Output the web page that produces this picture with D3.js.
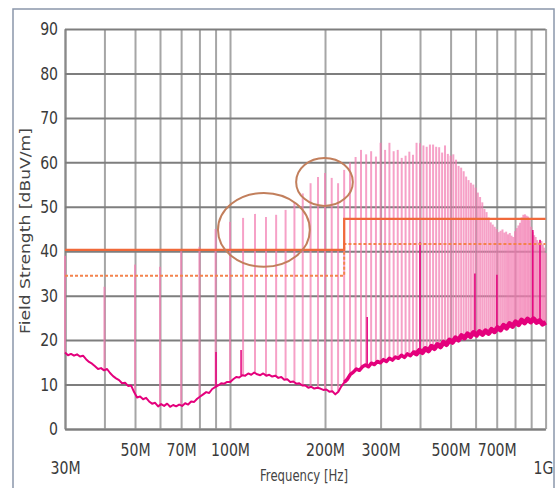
<!DOCTYPE html>
<html>
<head>
<meta charset="utf-8">
<script src="https://cdn.jsdelivr.net/npm/d3@7/dist/d3.min.js"></script>
<style>
  body { margin: 0; background: #fff; }
  svg text { fill: #3a3a3a; }
</style>
</head>
<body>
<div id="chart"></div>
<script>
// frequency grid (MHz) and labels
const gridFreqs = [30, 40, 50, 60, 70, 80, 90, 100, 200, 300, 400, 500, 600, 700, 800, 900, 1000];
const freqLabels = {30: "30M", 50: "50M", 70: "70M", 100: "100M", 200: "200M", 300: "300M", 500: "500M", 700: "700M", 1000: "1G"};
const levelTicks = [0, 10, 20, 30, 40, 50, 60, 70, 80, 90];

// harmonic peaks, every 10 MHz from 30M to 1G (dBuV/m)
const harmonicFreqs = d3.range(30, 1001, 10);
const harmonicPeaks = [
  39, 32, 37, 36.5, 40, 41, 45, 46.6, 47.5, 48.4,
  47.7, 48.2, 49.3, 51, 53, 55.3, 56.7, 57.6, 56.5, 55.3,
  58.3, 60, 61.2, 62.8, 61.8, 62.5, 61.3, 64.4, 62.8, 64.4,
  62.5, 62.8, 61, 61.5, 62.4, 61.7, 64.4, 64.3, 63.8, 63.5,
  64, 64, 63.5, 63.4, 62.2, 63.8, 61.9, 61.5, 61.8, 60.6,
  59.2, 58.8, 58, 56.8, 56, 55.4, 55, 54.3, 53.2, 52.2,
  51, 49.5, 48.8, 47.6, 46.5, 46, 45.5, 45, 44.3, 44.6,
  44.9, 44.2, 44.4, 43.8, 44.1, 43.5, 43.2, 44.5, 45.2, 45.8,
  46.4, 47.6, 48.2, 48.3, 48, 47.8, 47, 45.5, 44.3, 43.6,
  43.2, 42.5, 42, 42.6, 42.3, 41.5, 40.8, 39.6
];

// noise floor trace, sampled evenly on the log axis from 30M to 1G
const noiseLevels = [
  17.2, 16.6, 16.9, 16.5, 16.8, 16.3, 16.5, 15.7, 15.1, 14.7,
  14.1, 13.5, 13.7, 13.2, 13.5, 12.6, 11.9, 11.4, 11.0, 10.3,
  10.4, 9.7, 9.8, 8.3, 7.1, 7.3, 6.7, 7.0, 6.2, 5.7,
  5.9, 5.1, 5.6, 5.2, 5.7, 5.0, 5.4, 5.1, 5.5, 5.2,
  5.8, 5.5, 6.2, 6.1, 6.8, 7.3, 7.8, 8.3, 8.1, 9.0,
  9.4, 9.8, 10.3, 10.2, 10.6, 10.6, 11.2, 11.7, 11.6, 12.1,
  12.0, 12.5, 12.2, 12.7, 12.3, 12.1, 12.5, 12.0, 12.2, 11.8,
  12.0, 11.5, 11.7, 11.1, 11.2, 10.6, 10.7, 10.2, 10.3, 9.8,
  9.8, 9.3, 9.5, 9.1, 9.3, 9.1, 8.8, 8.9, 8.4, 8.5,
  7.8, 8.4, 9.6, 10.5, 11.2, 12.3, 12.8, 13.5, 13.2, 14.0,
  14.4, 14.0, 14.8, 14.5, 15.2, 14.9, 15.6, 15.2, 15.9, 15.5,
  16.2, 15.9, 16.6, 16.1, 16.9, 16.5, 17.3, 16.9, 17.7, 17.2,
  18.1, 17.6, 18.6, 18.1, 19.0, 18.5, 19.5, 19.0, 20.0, 19.5,
  20.5, 20.0, 21.0, 20.5, 21.4, 20.8, 21.7, 21.1, 21.9, 21.3,
  22.1, 21.5, 22.4, 21.9, 22.8, 22.3, 23.3, 22.7, 23.7, 23.1,
  24.1, 23.5, 24.5, 23.9, 24.7, 24.1, 24.8, 24.0, 24.4, 23.6,
  24.0
];

// taller spikes on the noise trace itself [MHz, dBuV/m]
const noiseSpikes = [[90.3, 17.3], [108.4, 17.8], [272, 25.2], [400, 42], [597, 35], [701, 34.7], [911, 44.8], [960, 42.5]];

// limit lines: bands split at 230M
const limitFreqs = [30, 230, 1000];
const limitSolid = [40.3, 47.3];
const limitDashed = [34.5, 41.6];

// highlighted regions [MHz from, MHz to, dB from, dB to]
const marks = [[91.6, 179, 36.5, 53.1], [162, 245, 50.2, 61]];

const W = 558, H = 488;
const margin = {left: 65, top: 29, right: 12.4, bottom: 59};
const plotW = W - margin.left - margin.right;
const plotH = H - margin.top - margin.bottom;

const svg = d3.select("#chart").append("svg")
  .attr("width", W).attr("height", H);

// outer frame
svg.append("rect")
  .attr("x", 13).attr("y", 9).attr("width", 541).attr("height", 500)
  .attr("fill", "none").attr("stroke", "#8b97ab").attr("stroke-width", 1.5);

const g = svg.append("g").attr("transform", `translate(${margin.left},${margin.top})`);

const x = d3.scaleLog().domain([30, 1000]).range([0, plotW]);
const y = d3.scaleLinear().domain([0, 90]).range([plotH, 0]);

// axes + grid
const xAxis = g.append("g")
  .attr("transform", `translate(0,${plotH})`)
  .call(d3.axisBottom(x).tickValues(gridFreqs).tickSize(-plotH).tickSizeOuter(0)
    .tickPadding(14).tickFormat(d => freqLabels[d] || ""));
xAxis.select(".domain").attr("stroke", "#8a8a8a").attr("stroke-width", 2);
xAxis.selectAll(".tick line").attr("stroke", "#a6a6a6").attr("stroke-width", 2);
xAxis.selectAll(".tick text")
  .attr("font-family", "'Liberation Sans Narrow', 'DejaVu Sans Condensed', sans-serif")
  .attr("font-size", 18)
  .attr("transform", "scale(0.87,1)")
  .attr("y", d => (d === 30 || d === 1000) ? 32 : 14)
  .attr("x", d => d === 1000 ? -3 : 0);

const yAxis = g.append("g")
  .call(d3.axisLeft(y).tickValues(levelTicks).tickSize(-plotW).tickSizeOuter(0).tickPadding(8));
yAxis.select(".domain").attr("stroke", "#8a8a8a").attr("stroke-width", 2);
yAxis.selectAll(".tick line").attr("stroke", "#7e7e7e").attr("stroke-width", 2);
yAxis.selectAll(".tick text")
  .attr("font-family", "'Liberation Sans Narrow', 'DejaVu Sans Condensed', sans-serif")
  .attr("font-size", 18)
  .attr("transform", "scale(0.87,1)");
svg.selectAll(".tick text").style("fill", "#3a3a3a");

// noise samples
const N = noiseLevels.length;
const noiseData = noiseLevels.map((v, i) => ({f: 30 * Math.pow(1000 / 30, i / (N - 1)), v: v}));
const noiseAt = f => noiseLevels[Math.round(Math.log(f / 30) / Math.log(1000 / 30) * (N - 1))];

// harmonic spikes
g.append("g").selectAll("line")
  .data(harmonicFreqs.map((f, i) => ({f: f, v: harmonicPeaks[i]})))
  .join("line")
    .attr("x1", d => x(d.f)).attr("x2", d => x(d.f))
    .attr("y1", d => y(noiseAt(d.f))).attr("y2", d => y(d.v))
    .attr("stroke", "#f27db1").attr("stroke-width", 2).attr("stroke-opacity", 0.72);

// noise trace spikes
g.append("g").selectAll("line")
  .data(noiseSpikes)
  .join("line")
    .attr("x1", d => x(d[0])).attr("x2", d => x(d[0]))
    .attr("y1", d => y(noiseAt(d[0]))).attr("y2", d => y(d[1]))
    .attr("stroke", "#e4007c").attr("stroke-width", 1.5);

// noise floor (the trace gets wider above ~230M)
const noiseLine = d3.line().x(d => x(d.f)).y(d => y(d.v));
g.append("path")
  .datum(noiseData)
  .attr("fill", "none")
  .attr("stroke", "#e4007c").attr("stroke-width", 2)
  .attr("stroke-linejoin", "round")
  .attr("d", noiseLine);
g.append("path")
  .datum(noiseData.filter(d => d.f >= 230))
  .attr("fill", "none")
  .attr("stroke", "#e4007c").attr("stroke-width", 3.5)
  .attr("stroke-linejoin", "round")
  .attr("d", noiseLine);
g.append("path")
  .datum(noiseData.filter(d => d.f >= 380))
  .attr("fill", "none")
  .attr("stroke", "#e4007c").attr("stroke-width", 5)
  .attr("stroke-linejoin", "round")
  .attr("d", noiseLine);

// limit lines
const stepPts = vals => [
  [limitFreqs[0], vals[0]], [limitFreqs[1], vals[0]],
  [limitFreqs[1], vals[1]], [limitFreqs[2], vals[1]]
];
const lim = d3.line().x(d => x(d[0])).y(d => y(d[1]));
g.append("path").attr("d", lim(stepPts(limitDashed)))
  .attr("fill", "none").attr("stroke", "#f4834c").attr("stroke-width", 2)
  .attr("stroke-dasharray", "3,2");
g.append("path").attr("d", lim(stepPts(limitSolid)))
  .attr("fill", "none").attr("stroke", "#f0693a").attr("stroke-width", 2.2);

// annotation ellipses
g.append("g").selectAll("ellipse")
  .data(marks)
  .join("ellipse")
    .attr("cx", d => (x(d[0]) + x(d[1])) / 2)
    .attr("cy", d => (y(d[2]) + y(d[3])) / 2)
    .attr("rx", d => (x(d[1]) - x(d[0])) / 2)
    .attr("ry", d => (y(d[2]) - y(d[3])) / 2)
    .attr("fill", "none").attr("stroke", "#c27f5c").attr("stroke-width", 2);

// axis titles
svg.append("text")
  .attr("transform", "translate(29.5,231) rotate(-90)")
  .attr("text-anchor", "middle")
  .attr("font-family", "'DejaVu Sans', sans-serif")
  .attr("font-size", 14)
  .attr("textLength", 206).attr("lengthAdjust", "spacingAndGlyphs")
  .style("fill", "#444")
  .text("Field Strength [dBuV/m]");

svg.append("text")
  .attr("x", 304).attr("y", 481)
  .attr("text-anchor", "middle")
  .attr("font-family", "'DejaVu Sans', sans-serif")
  .attr("font-size", 15)
  .attr("textLength", 88).attr("lengthAdjust", "spacingAndGlyphs")
  .style("fill", "#444")
  .text("Frequency [Hz]");
</script>
</body>
</html>
